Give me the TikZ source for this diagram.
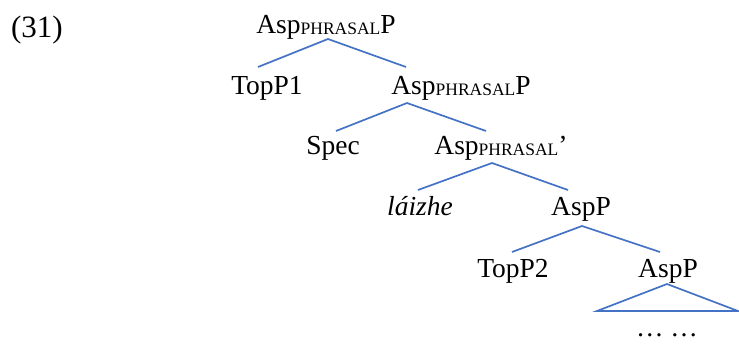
\documentclass[tikz,border=0pt]{standalone}
\usepackage{fontspec}
\setmainfont{Liberation Serif}
\definecolor{treeblue}{HTML}{4472C4}
\tikzset{
  lbl/.style={anchor=base, inner sep=0pt, font=\fontsize{27.5}{30}\selectfont},
  br/.style={draw=treeblue, line width=1.7pt}
}
\newcommand{\phrsc}{\raisebox{-1pt}{\fontsize{17.5}{20}\selectfont PHRASAL}}
\begin{document}
\begin{tikzpicture}[x=1pt,y=-1pt]
\useasboundingbox (0,0) rectangle (739,343);
% example number
\node[anchor=base, inner sep=0pt, font=\fontsize{31}{34}\selectfont] (num) at (37,37) {(31)};
% labels
\node[lbl] (n1) at (326,33) {Asp\phrsc P};
\node[lbl] (n2) at (267,94) {TopP1};
\node[lbl] (n3) at (461,94) {Asp\phrsc P};
\node[lbl] (n4) at (333,154) {Spec};
\node[lbl] (n5) at (501,154) {Asp\phrsc’};
\node[lbl] (n6) at (420,215) {\itshape láizhe};
\node[lbl] (n7) at (581,215) {AspP};
\node[lbl] (n8) at (513,277) {TopP2};
\node[lbl] (n9) at (668,277) {AspP};
\node[lbl] (n10) at (667,336) {… …};
% branch points
\coordinate (a1) at (328,39);  \coordinate (l1) at (258,67);  \coordinate (r1) at (406,67);
\coordinate (a2) at (407,103); \coordinate (l2) at (336,131); \coordinate (r2) at (486,131);
\coordinate (a3) at (492,163); \coordinate (l3) at (418,190); \coordinate (r3) at (568,190);
\coordinate (a4) at (582,226); \coordinate (l4) at (512,252); \coordinate (r4) at (660,252);
\coordinate (a5) at (667,284); \coordinate (l5) at (597,311); \coordinate (r5) at (738,311);
\draw[br] (l1) -- (a1) -- (r1);
\draw[br] (l2) -- (a2) -- (r2);
\draw[br] (l3) -- (a3) -- (r3);
\draw[br] (l4) -- (a4) -- (r4);
\draw[br] (l5) -- (a5) -- (r5) -- cycle;
\end{tikzpicture}
\end{document}
